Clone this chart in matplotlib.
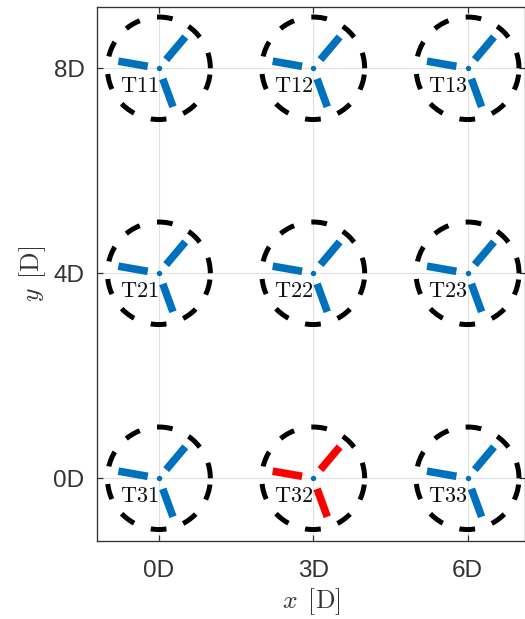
import numpy as np
import matplotlib
matplotlib.use('Agg')
import matplotlib.pyplot as plt
from matplotlib.patches import Ellipse

x_positions = [0, 3, 6]
y_positions = [8, 4, 0]
x_tick_labels = ['0D', '3D', '6D']
y_tick_labels = ['0D', '4D', '8D']
y_tick_values = [0, 4, 8]
turbine_names = [['T11', 'T12', 'T13'], ['T21', 'T22', 'T23'], ['T31', 'T32', 'T33']]
blade_angles_deg = [50, 170, 290]
blade_inner = 0.22
blade_outer = 0.80
rotor_radius = 1.0
highlighted = ['T32']

BLUE = '#0072BD'
RED = '#FF0000'
DARK = '#333333'

plt.rcParams['font.family'] = ['Liberation Sans', 'DejaVu Sans']
plt.rcParams['mathtext.fontset'] = 'cm'

W, H = 525, 619
fig = plt.figure(figsize=(W / 100, H / 100), dpi=100)
L, R, T, B = 97, 525, 7, 541
ax = fig.add_axes([L / W, 1 - B / H, (R - L) / W, (B - T) / H])
ax.set_xlim(-1.203, 7.117)
ax.set_ylim(-1.224, 9.196)

for i, yc in enumerate(y_positions):
    for j, xc in enumerate(x_positions):
        name = turbine_names[i][j]
        c = RED if name in highlighted else BLUE
        ax.add_patch(Ellipse((xc, yc), 2 * rotor_radius, 2 * rotor_radius, angle=90, fill=False,
                             ec='black', lw=3.6, ls=(0, (3.15, 3.53)), capstyle='butt', zorder=3))
        for a in blade_angles_deg:
            t = np.deg2rad(a)
            ax.plot([xc + blade_inner * np.cos(t), xc + blade_outer * np.cos(t)],
                    [yc + blade_inner * np.sin(t), yc + blade_outer * np.sin(t)],
                    color=c, lw=5.5, solid_capstyle='butt', zorder=4)
        ax.plot([xc], [yc], 'o', color=BLUE, ms=3.9, mew=0, zorder=5)
        ax.text(xc - 0.385, yc - 0.36, r'$\mathrm{' + name + '}$', ha='center', va='center',
                fontsize=16, color='#111111', zorder=6)

ax.set_xticks(x_positions)
ax.set_xticklabels(x_tick_labels)
ax.set_yticks(y_tick_values)
ax.set_yticklabels(y_tick_labels)
ax.grid(True, color='#E0E0E0', lw=0.8, zorder=0)
ax.set_axisbelow(True)
ax.tick_params(axis='both', direction='in', length=4.5, width=0.9, color=DARK,
               labelcolor=DARK, labelsize=17.5, top=True, right=True, pad=9)
ax.tick_params(axis='x', pad=14)
for s in ax.spines.values():
    s.set_color(DARK)
    s.set_linewidth(0.95)
ax.set_xlabel(r'$x\ \,[\mathrm{D}]$', fontsize=18.5, color=DARK, labelpad=3)
ax.set_ylabel(r'$y\ \,[\mathrm{D}]$', fontsize=18.5, color=DARK, labelpad=4)

fig.savefig('out.png', dpi=100)
